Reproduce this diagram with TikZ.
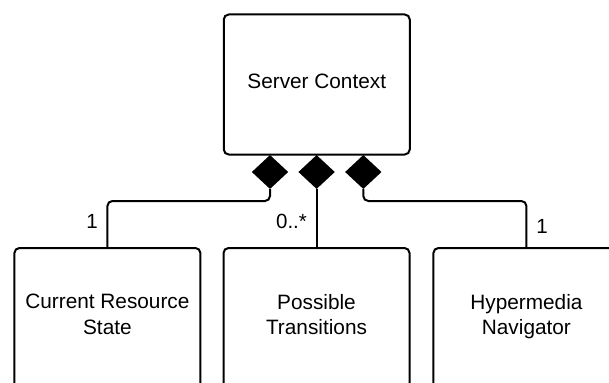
\documentclass[tikz,border=0pt]{standalone}
\usepackage{fontspec}
\setmainfont{Liberation Sans}
\usetikzlibrary{shapes.geometric}
\begin{document}
\begin{tikzpicture}[x=1pt,y=-1pt,
  classbox/.style={draw, line width=2pt, rounded corners=5pt, minimum width=186pt,
    minimum height=140pt, inner sep=0pt, align=center,
    font=\fontsize{20.8}{25.6}\selectfont, text depth=7pt},
  agg/.style={diamond, fill=black, draw=none, inner sep=0pt,
    minimum width=36.5pt, minimum height=34pt},
  conn/.style={line width=2pt, rounded corners=5pt},
  mult/.style={inner sep=0pt, font=\fontsize{20.5}{24}\selectfont}]
\useasboundingbox (0,0) rectangle (609,382);
\clip (0,0) rectangle (609,382);
\node[classbox] (sc) at (316.75,84.5) {Server Context};
\node[classbox] (cr) at (107.4,318) {Current Resource\\State};
\node[classbox] (pt) at (316.5,318) {Possible\\Transitions};
\node[classbox] (hn) at (526.4,318) {Hypermedia\\Navigator};
\node[agg] (d1) at (270,172) {};
\node[agg] (d2) at (316.6,172) {};
\node[agg] (d3) at (363.3,172) {};
\coordinate (j1) at (270,201);
\coordinate (j3) at (363.3,201);
\draw[conn] (d1.south) -- (j1) -| (cr.north);
\draw[conn] (d2.south) -- (d2.south |- pt.north);
\draw[conn] (d3.south) -- (j3) -| (hn.north);
\node[mult] (m1) at (92,221) {1};
\node[mult] (m2) at (291.5,221.7) {0..*};
\node[mult] (m3) at (542,226) {1};
\end{tikzpicture}
\end{document}
